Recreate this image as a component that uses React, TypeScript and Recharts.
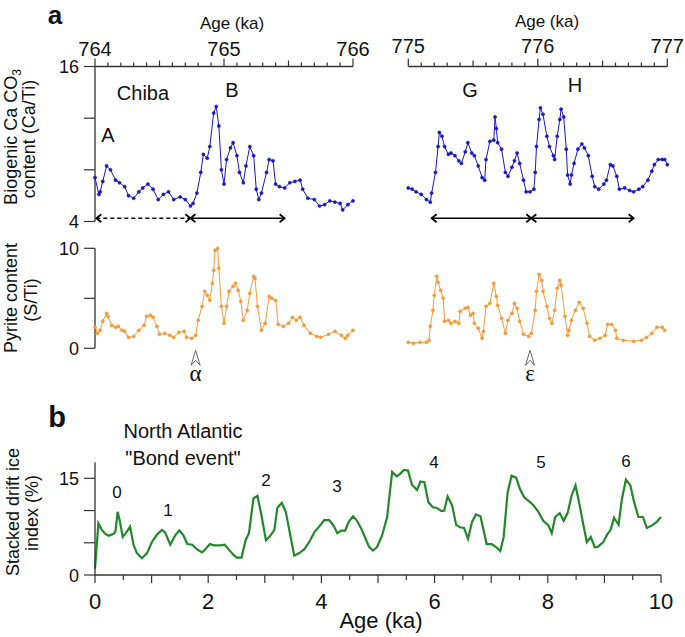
import { LineChart, Line, XAxis, YAxis, ReferenceLine, ReferenceDot } from 'recharts';

const FONT = '"Liberation Sans", Arial, sans-serif';
const SERIF = '"Liberation Serif", "DejaVu Serif", serif';
const BLUE = '#1818c4';
const ORANGE = '#f59a38';
const GREEN = '#22882a';
const AXIS = '#333';

// Chiba section, biogenic CaCO3 (Ca/Ti), 764-766 ka
const caTiAB: [number, number][] = [
  [764.0, 7.4], [764.03, 6.1], [764.04, 6.3], [764.06, 7.1], [764.09, 8.3], [764.12, 8.0],
  [764.16, 7.2], [764.19, 7.0], [764.23, 6.7], [764.26, 6.0], [764.3, 5.8], [764.34, 6.3],
  [764.37, 6.6], [764.41, 6.9], [764.45, 6.5], [764.49, 5.7], [764.53, 6.1], [764.57, 6.3],
  [764.61, 5.7], [764.66, 5.9], [764.7, 5.7], [764.74, 5.2], [764.76, 5.4], [764.79, 6.2],
  [764.82, 7.8], [764.84, 9.2], [764.87, 8.9], [764.89, 9.8], [764.92, 12.4], [764.94, 12.9],
  [764.96, 11.4], [764.98, 8.0], [765.0, 6.9], [765.02, 8.8], [765.05, 9.7], [765.07, 10.1],
  [765.1, 9.1], [765.12, 7.8], [765.15, 7.0], [765.17, 8.3], [765.2, 9.8], [765.23, 9.1],
  [765.25, 6.5], [765.27, 5.7], [765.29, 6.2], [765.33, 7.8], [765.35, 8.8], [765.38, 8.7],
  [765.4, 6.9], [765.43, 6.7], [765.47, 6.6], [765.51, 7.0], [765.55, 7.1], [765.59, 7.2],
  [765.61, 6.5], [765.65, 5.8], [765.7, 5.7], [765.74, 5.2], [765.78, 5.3], [765.82, 5.6],
  [765.86, 5.5], [765.9, 5.4], [765.92, 4.9], [765.96, 5.3], [766.0, 5.6],
];

// Chiba section, biogenic CaCO3 (Ca/Ti), 775-777 ka
const caTiGH: [number, number][] = [
  [775.0, 6.6], [775.03, 6.5], [775.06, 6.3], [775.1, 6.1], [775.14, 5.7], [775.17, 5.5],
  [775.18, 6.2], [775.21, 7.8], [775.23, 9.8], [775.24, 10.9], [775.26, 10.6], [775.28, 9.8],
  [775.31, 9.2], [775.33, 9.3], [775.36, 9.1], [775.39, 8.7], [775.41, 8.5], [775.44, 9.4],
  [775.46, 10.1], [775.49, 9.3], [775.51, 9.1], [775.54, 8.3], [775.57, 7.4], [775.59, 7.2],
  [775.6, 8.8], [775.63, 10.2], [775.66, 10.3], [775.67, 12.1], [775.68, 11.2], [775.69, 10.1],
  [775.72, 9.6], [775.75, 7.8], [775.77, 7.5], [775.8, 8.2], [775.82, 8.7], [775.84, 9.3],
  [775.86, 8.5], [775.89, 7.2], [775.91, 6.3], [775.94, 6.3], [775.97, 6.5], [775.98, 7.8],
  [775.99, 9.8], [776.01, 11.9], [776.02, 12.8], [776.04, 12.3], [776.07, 10.6], [776.09, 9.8],
  [776.12, 9.1], [776.13, 8.8], [776.15, 10.6], [776.17, 11.9], [776.18, 12.7], [776.2, 12.1],
  [776.22, 9.6], [776.23, 7.6], [776.25, 6.9], [776.26, 7.6], [776.28, 8.5], [776.31, 9.6],
  [776.34, 10.0], [776.36, 9.7], [776.39, 9.1], [776.42, 7.5], [776.44, 6.7], [776.47, 6.5],
  [776.51, 6.9], [776.53, 7.2], [776.56, 8.4], [776.58, 8.3], [776.61, 7.5], [776.63, 6.5],
  [776.67, 6.6], [776.71, 6.4], [776.74, 6.3], [776.78, 6.5], [776.81, 6.7], [776.85, 7.2],
  [776.88, 7.9], [776.9, 8.4], [776.93, 8.8], [776.96, 8.8], [776.98, 8.8], [777.0, 8.4],
];

// Pyrite (S/Ti), 764-766 ka
const sTiAB: [number, number][] = [
  [764.0, 2.1], [764.02, 1.5], [764.04, 1.8], [764.06, 2.7], [764.09, 3.5], [764.1, 3.2],
  [764.13, 2.3], [764.16, 2.1], [764.18, 2.2], [764.21, 1.8], [764.23, 1.7], [764.26, 1.1],
  [764.3, 1.2], [764.34, 1.8], [764.38, 2.3], [764.4, 3.2], [764.43, 3.3], [764.45, 3.1],
  [764.48, 2.2], [764.5, 1.4], [764.54, 1.5], [764.58, 1.3], [764.61, 1.1], [764.65, 1.6],
  [764.69, 1.7], [764.71, 1.1], [764.75, 1.0], [764.78, 1.3], [764.8, 2.8], [764.83, 4.2],
  [764.85, 5.7], [764.87, 5.3], [764.89, 4.8], [764.91, 6.5], [764.92, 7.8], [764.93, 9.8],
  [764.95, 10.0], [764.96, 8.0], [764.98, 4.2], [765.0, 2.5], [765.02, 4.2], [765.04, 5.7],
  [765.07, 6.2], [765.09, 6.5], [765.11, 5.8], [765.13, 4.7], [765.15, 2.8], [765.18, 3.8],
  [765.2, 5.5], [765.23, 7.2], [765.24, 7.0], [765.26, 4.2], [765.29, 1.8], [765.32, 2.5],
  [765.35, 5.2], [765.37, 5.0], [765.4, 4.8], [765.42, 2.4], [765.46, 2.2], [765.5, 2.5],
  [765.53, 3.1], [765.56, 2.8], [765.59, 3.1], [765.62, 2.3], [765.67, 1.5], [765.72, 1.2],
  [765.75, 1.1], [765.81, 1.4], [765.86, 1.7], [765.91, 1.3], [765.94, 1.0], [765.96, 1.3],
  [766.0, 1.8],
];

// Pyrite (S/Ti), 775-777 ka
const sTiGH: [number, number][] = [
  [775.0, 0.6], [775.04, 0.5], [775.09, 0.6], [775.14, 0.6], [775.16, 0.8], [775.17, 2.2],
  [775.19, 3.8], [775.2, 5.3], [775.22, 7.2], [775.23, 6.6], [775.25, 5.8], [775.27, 5.0],
  [775.28, 2.7], [775.31, 2.8], [775.33, 2.5], [775.36, 2.7], [775.39, 2.5], [775.4, 3.7],
  [775.44, 4.0], [775.46, 4.1], [775.48, 3.3], [775.5, 3.5], [775.51, 2.5], [775.54, 2.0],
  [775.57, 1.0], [775.58, 1.7], [775.6, 4.2], [775.63, 4.5], [775.66, 6.5], [775.68, 5.2],
  [775.69, 4.3], [775.72, 3.0], [775.75, 1.5], [775.77, 2.8], [775.8, 3.5], [775.82, 4.5],
  [775.84, 4.0], [775.86, 2.7], [775.89, 1.4], [775.93, 1.2], [775.95, 1.5], [775.98, 3.8],
  [775.99, 5.7], [776.01, 7.4], [776.03, 6.8], [776.04, 5.7], [776.07, 4.2], [776.09, 3.0],
  [776.11, 2.5], [776.13, 3.8], [776.15, 6.0], [776.17, 6.8], [776.18, 6.3], [776.21, 3.2],
  [776.23, 1.3], [776.24, 1.8], [776.26, 2.8], [776.29, 3.8], [776.32, 4.6], [776.35, 4.0],
  [776.38, 2.5], [776.4, 1.2], [776.44, 0.8], [776.48, 1.0], [776.52, 1.3], [776.54, 2.4],
  [776.57, 2.4], [776.6, 1.8], [776.61, 1.0], [776.66, 0.8], [776.74, 0.7], [776.8, 0.8],
  [776.84, 1.1], [776.88, 1.5], [776.92, 2.1], [776.96, 2.1], [776.98, 1.8],
];

// North Atlantic stacked drift ice index (%), 0-10 ka
const driftIce: [number, number][] = [
  [0.0, 1.0], [0.06, 8.0], [0.12, 7.0], [0.18, 6.4], [0.24, 6.1], [0.33, 6.4], [0.36, 6.7],
  [0.4, 9.8], [0.44, 8.3], [0.49, 5.9], [0.56, 6.7], [0.62, 7.5], [0.68, 4.7], [0.74, 3.4],
  [0.83, 2.6], [0.92, 3.4], [1.01, 5.2], [1.09, 6.2], [1.18, 7.0], [1.24, 6.6], [1.33, 4.7],
  [1.42, 6.2], [1.49, 6.9], [1.56, 6.2], [1.63, 4.8], [1.72, 4.7], [1.8, 4.0], [1.89, 3.5],
  [1.95, 4.0], [2.03, 4.8], [2.1, 4.6], [2.22, 4.6], [2.29, 4.7], [2.37, 3.9], [2.46, 3.0],
  [2.51, 2.7], [2.59, 2.7], [2.66, 5.4], [2.72, 6.5], [2.8, 11.9], [2.87, 12.3], [2.94, 9.3],
  [3.02, 5.4], [3.09, 6.0], [3.17, 7.0], [3.22, 10.4], [3.3, 11.2], [3.37, 9.8], [3.45, 6.2],
  [3.52, 3.0], [3.61, 3.4], [3.7, 4.0], [3.79, 5.2], [3.88, 6.7], [3.96, 7.5], [4.05, 8.5],
  [4.14, 8.5], [4.22, 7.6], [4.28, 6.5], [4.35, 6.9], [4.42, 6.9], [4.48, 8.2], [4.56, 9.1],
  [4.63, 8.4], [4.72, 6.9], [4.84, 4.4], [4.91, 3.8], [4.98, 4.3], [5.07, 6.1], [5.16, 8.9],
  [5.25, 16.0], [5.33, 15.3], [5.39, 15.7], [5.46, 16.3], [5.53, 16.2], [5.6, 14.0],
  [5.69, 13.2], [5.75, 14.5], [5.82, 14.4], [5.89, 11.3], [5.97, 10.5], [6.04, 10.4],
  [6.12, 9.9], [6.17, 10.0], [6.23, 12.2], [6.31, 10.8], [6.38, 7.8], [6.45, 7.4], [6.52, 7.3],
  [6.59, 5.6], [6.66, 8.2], [6.73, 9.4], [6.81, 9.1], [6.92, 4.8], [7.01, 4.8], [7.09, 4.3],
  [7.16, 3.7], [7.22, 5.9], [7.29, 12.8], [7.36, 15.4], [7.44, 15.1], [7.51, 13.3],
  [7.58, 12.1], [7.66, 11.5], [7.75, 10.8], [7.84, 9.7], [7.92, 8.4], [8.01, 7.7], [8.07, 6.5],
  [8.13, 9.0], [8.21, 9.6], [8.28, 8.4], [8.35, 9.6], [8.42, 12.3], [8.49, 13.9], [8.57, 10.5],
  [8.63, 7.7], [8.69, 5.1], [8.76, 5.9], [8.83, 4.3], [8.89, 4.4], [8.98, 5.1], [9.05, 6.3],
  [9.11, 7.0], [9.17, 8.9], [9.25, 7.8], [9.31, 11.8], [9.38, 14.8], [9.46, 13.9], [9.52, 11.5],
  [9.6, 9.0], [9.68, 9.0], [9.75, 7.3], [9.84, 7.7], [9.92, 8.2], [10.0, 9.0],
];

const ageLabelsAB = [764, 765, 766];
const ageLabelsGH = [775, 776, 777];
const caTiTicks = [4, 8, 12, 16];
const caTiLabels = [4, 16];
const sTiTicks = [0, 5, 10];
const sTiLabels = [0, 10];
const iceTicks = [0, 5, 10, 15];
const iceLabels = [0, 15];
const bondAgeLabels = [0, 2, 4, 6, 8, 10];

const steps = (from: number, to: number, step: number) => {
  const out: number[] = [];
  for (let v = from; v <= to + 1e-9; v += step) out.push(Math.round(v * 100) / 100);
  return out;
};

const rows = (pts: [number, number][]) => pts.map(([age, v]) => ({ age, v }));

const isHalf = (v: number) => Math.abs(v * 2 - Math.round(v * 2)) < 1e-6;

// axes get real sizes (recharts skips zero-size ones); margins are reduced to match
const AX_H = 40;
const AX_W = 50;

const topTick = (labels: number[], labelGap: number) => (props: any) => {
  const { x, y, payload } = props;
  const v = payload.value;
  const major = labels.includes(v);
  const len = major ? 8 : isHalf(v) ? 6 : 4;
  return (
    <g>
      <line x1={x} x2={x} y1={y} y2={y - len} stroke={AXIS} strokeWidth={1.2} />
      {major && (
        <text x={x} y={y - labelGap} textAnchor="middle" fontSize={20} fontFamily={FONT} fill="#111">
          {v}
        </text>
      )}
    </g>
  );
};

const leftTick = (labels: number[]) => (props: any) => {
  const { x, y, payload } = props;
  const v = payload.value;
  return (
    <g>
      <line x1={x} x2={x - 11} y1={y} y2={y} stroke={AXIS} strokeWidth={1.2} />
      {labels.includes(v) && (
        <text x={x - 16} y={y + 6.5} textAnchor="end" fontSize={18} fontFamily={FONT} fill="#111">
          {v}
        </text>
      )}
    </g>
  );
};

const bottomTick = (labels: number[]) => (props: any) => {
  const { x, y, payload } = props;
  const v = payload.value;
  const len = Number.isInteger(v) ? 8 : 5;
  return (
    <g>
      <line x1={x} x2={x} y1={y} y2={y + len} stroke={AXIS} strokeWidth={1.2} />
      {labels.includes(v) && (
        <text x={x} y={y + 34} textAnchor="middle" fontSize={22} fontFamily={FONT} fill="#111">
          {v}
        </text>
      )}
    </g>
  );
};

const arrowShape = (dashed: boolean) => (p: any) => {
  const { x1, y1, x2, y2 } = p;
  const h = 5;
  const w = 4;
  return (
    <g stroke="#000" strokeWidth={1.7} fill="none">
      <line x1={x1} y1={y1} x2={x2} y2={y2} strokeDasharray={dashed ? '4 3' : undefined} />
      <polyline points={`${x1 + h},${y1 - w} ${x1},${y1} ${x1 + h},${y1 + w}`} />
      <polyline points={`${x2 - h},${y2 - w} ${x2},${y2} ${x2 - h},${y2 + w}`} />
    </g>
  );
};

const markerShape = (sym: string) => (p: any) => {
  const { cx, cy } = p;
  return (
    <g>
      <polygon
        points={`${cx},${cy} ${cx - 4.5},${cy + 15} ${cx},${cy + 10} ${cx + 4.5},${cy + 15}`}
        fill="#fff"
        stroke="#555"
        strokeWidth={0.9}
      />
      <text x={cx} y={cy + 31} textAnchor="middle" fontSize={23} fontFamily={SERIF} fill="#111">
        {sym}
      </text>
    </g>
  );
};

const dot = (c: string) => ({ r: 1.6, fill: c, stroke: c, strokeWidth: 0.5 });

const axisLine = { stroke: AXIS, strokeWidth: 1.3 };

export default function App() {
  return (
    <div style={{ position: 'absolute', left: 0, top: 0, width: 685, height: 637, background: '#fff' }}>
      {/* a: Ca/Ti, 764-766 ka */}
      <div style={{ position: 'absolute', left: 0, top: 0 }}>
        <LineChart
          width={370}
          height={240}
          data={rows(caTiAB)}
          margin={{ top: 66.5 - AX_H, right: 17, bottom: 18.5, left: 95 - AX_W }}
        >
          <XAxis
            dataKey="age"
            type="number"
            orientation="top"
            domain={[764, 766]}
            ticks={steps(764, 766, 0.1)}
            interval={0}
            height={AX_H}
            tickSize={0}
            tickMargin={0}
            tickLine={false}
            axisLine={axisLine}
            tick={topTick(ageLabelsAB, 11)}
          />
          <YAxis
            type="number"
            domain={[4, 16]}
            ticks={caTiTicks}
            interval={0}
            width={AX_W}
            tickSize={0}
            tickMargin={0}
            tickLine={false}
            axisLine={axisLine}
            tick={leftTick(caTiLabels)}
          />
          <ReferenceLine segment={[{ x: 764.01, y: 4.25 }, { x: 764.74, y: 4.25 }]} shape={arrowShape(true)} />
          <ReferenceLine segment={[{ x: 764.74, y: 4.25 }, { x: 765.47, y: 4.25 }]} shape={arrowShape(false)} />
          <Line type="linear" dataKey="v" stroke={BLUE} strokeWidth={1} dot={dot(BLUE)} isAnimationActive={false} />
        </LineChart>
      </div>

      {/* a: Ca/Ti, 775-777 ka */}
      <div style={{ position: 'absolute', left: 380, top: 0 }}>
        <LineChart
          width={305}
          height={240}
          data={rows(caTiGH)}
          margin={{ top: 66.5 - AX_H, right: 17.7, bottom: 18.5, left: 28.3 }}
        >
          <XAxis
            dataKey="age"
            type="number"
            orientation="top"
            domain={[775, 777]}
            ticks={steps(775, 777, 0.1)}
            interval={0}
            height={AX_H}
            tickSize={0}
            tickMargin={0}
            tickLine={false}
            axisLine={axisLine}
            tick={topTick(ageLabelsGH, 14)}
          />
          <YAxis type="number" domain={[4, 16]} hide />
          <ReferenceLine segment={[{ x: 775.18, y: 4.25 }, { x: 775.95, y: 4.25 }]} shape={arrowShape(false)} />
          <ReferenceLine segment={[{ x: 775.95, y: 4.25 }, { x: 776.74, y: 4.25 }]} shape={arrowShape(false)} />
          <Line type="linear" dataKey="v" stroke={BLUE} strokeWidth={1} dot={dot(BLUE)} isAnimationActive={false} />
        </LineChart>
      </div>

      {/* a: S/Ti, 764-766 ka */}
      <div style={{ position: 'absolute', left: 0, top: 230 }}>
        <LineChart
          width={370}
          height={160}
          data={rows(sTiAB)}
          margin={{ top: 18.3, right: 17, bottom: 41.7, left: 95 - AX_W }}
        >
          <XAxis dataKey="age" type="number" domain={[764, 766]} hide />
          <YAxis
            type="number"
            domain={[0, 10]}
            ticks={sTiTicks}
            interval={0}
            width={AX_W}
            tickSize={0}
            tickMargin={0}
            tickLine={false}
            axisLine={axisLine}
            tick={leftTick(sTiLabels)}
          />
          <ReferenceDot x={764.78} y={-0.2} r={0} ifOverflow="visible" shape={markerShape('α')} />
          <Line type="linear" dataKey="v" stroke={ORANGE} strokeWidth={1} dot={dot(ORANGE)} isAnimationActive={false} />
        </LineChart>
      </div>

      {/* a: S/Ti, 775-777 ka */}
      <div style={{ position: 'absolute', left: 380, top: 230 }}>
        <LineChart
          width={305}
          height={160}
          data={rows(sTiGH)}
          margin={{ top: 18.3, right: 17.7, bottom: 41.7, left: 28.3 }}
        >
          <XAxis dataKey="age" type="number" domain={[775, 777]} hide />
          <YAxis type="number" domain={[0, 10]} hide />
          <ReferenceDot x={775.94} y={-0.2} r={0} ifOverflow="visible" shape={markerShape('ε')} />
          <Line type="linear" dataKey="v" stroke={ORANGE} strokeWidth={1} dot={dot(ORANGE)} isAnimationActive={false} />
        </LineChart>
      </div>

      {/* b: Bond events */}
      <div style={{ position: 'absolute', left: 0, top: 440 }}>
        <LineChart
          width={685}
          height={197}
          data={rows(driftIce)}
          margin={{ top: 22.2, right: 24, bottom: 62 - AX_H, left: 95 - AX_W }}
        >
          <XAxis
            dataKey="age"
            type="number"
            domain={[0, 10]}
            ticks={steps(0, 10, 0.5)}
            interval={0}
            height={AX_H}
            tickSize={0}
            tickMargin={0}
            tickLine={false}
            axisLine={axisLine}
            tick={bottomTick(bondAgeLabels)}
          />
          <YAxis
            type="number"
            domain={[0, 17.5]}
            ticks={iceTicks}
            interval={0}
            width={AX_W}
            tickSize={0}
            tickMargin={0}
            tickLine={false}
            axisLine={axisLine}
            tick={leftTick(iceLabels)}
          />
          <Line type="linear" dataKey="v" stroke={GREEN} strokeWidth={2.2} dot={false} isAnimationActive={false} />
        </LineChart>
      </div>

      {/* text */}
      <svg
        width={685}
        height={637}
        style={{ position: 'absolute', left: 0, top: 0, pointerEvents: 'none' }}
        fontFamily={FONT}
        fill="#111"
      >
        <text x={55} y={24} textAnchor="middle" fontSize={26} fontWeight="bold">a</text>
        <text x={232} y={29} textAnchor="middle" fontSize={17}>Age (ka)</text>
        <text x={547} y={27} textAnchor="middle" fontSize={17}>Age (ka)</text>
        <text transform="translate(17,137) rotate(-90)" textAnchor="middle" fontSize={18}>
          Biogenic Ca CO<tspan fontSize={12} dy={4}>3</tspan>
        </text>
        <text transform="translate(35,139) rotate(-90)" textAnchor="middle" fontSize={18}>content (Ca/Ti)</text>
        <text x={143} y={100} textAnchor="middle" fontSize={20}>Chiba</text>
        <text x={108} y={142} textAnchor="middle" fontSize={20}>A</text>
        <text x={232} y={97} textAnchor="middle" fontSize={20}>B</text>
        <text x={470} y={97} textAnchor="middle" fontSize={20}>G</text>
        <text x={575} y={92} textAnchor="middle" fontSize={20}>H</text>

        <text transform="translate(17,298) rotate(-90)" textAnchor="middle" fontSize={18}>Pyrite content</text>
        <text transform="translate(37,300) rotate(-90)" textAnchor="middle" fontSize={18}>(S/Ti)</text>

        <text x={57} y={427} textAnchor="middle" fontSize={29} fontWeight="bold">b</text>
        <text x={183} y={438} textAnchor="middle" fontSize={20}>North Atlantic</text>
        <text x={183} y={465} textAnchor="middle" fontSize={20}>"Bond event"</text>
        <text transform="translate(19,512) rotate(-90)" textAnchor="middle" fontSize={18}>Stacked drift ice</text>
        <text transform="translate(38,513) rotate(-90)" textAnchor="middle" fontSize={18}>index (%)</text>
        <text x={117} y={498} textAnchor="middle" fontSize={17}>0</text>
        <text x={168} y={516} textAnchor="middle" fontSize={17}>1</text>
        <text x={266} y={486} textAnchor="middle" fontSize={17}>2</text>
        <text x={337} y={492} textAnchor="middle" fontSize={17}>3</text>
        <text x={434} y={468} textAnchor="middle" fontSize={17}>4</text>
        <text x={541} y={468} textAnchor="middle" fontSize={17}>5</text>
        <text x={626} y={467} textAnchor="middle" fontSize={17}>6</text>
        <text x={381} y={628} textAnchor="middle" fontSize={22}>Age (ka)</text>
      </svg>
    </div>
  );
}
